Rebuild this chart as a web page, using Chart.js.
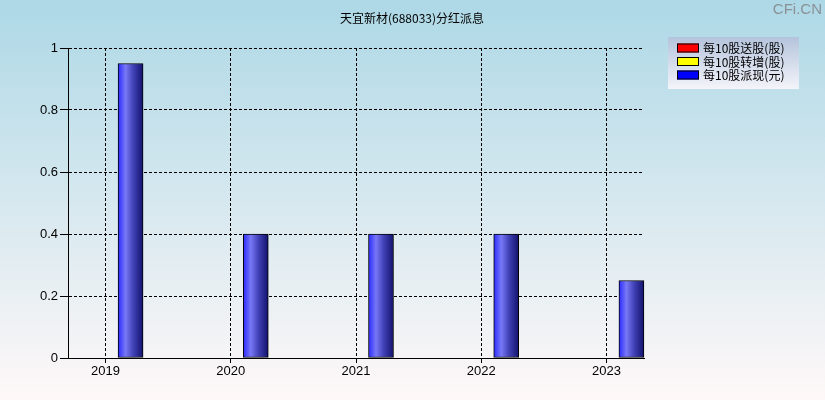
<!DOCTYPE html>
<html>
<head>
<meta charset="utf-8">
<title>天宜新材(688033)分红派息</title>
<script src="https://cdn.jsdelivr.net/npm/chart.js@4/dist/chart.umd.min.js"></script>
<style>
  html, body { margin: 0; padding: 0; background: #fff; }
  canvas { display: block; }
</style>
</head>
<body>
<canvas id="divChart" width="825" height="400"></canvas>
<script>
const titleText = '天宜新材(688033)分红派息';
const years = [2019, 2020, 2021, 2022, 2023];
const songGu = [0, 0, 0, 0, 0];        // 每10股送股(股)
const zhuanZeng = [0, 0, 0, 0, 0];     // 每10股转增(股)
const paiXian = [0.95, 0.4, 0.4, 0.4, 0.25]; // 每10股派现(元)
const yTicks = [0, 0.2, 0.4, 0.6, 0.8, 1];
const seriesNames = ['每10股送股(股)', '每10股转增(股)', '每10股派现(元)'];
const seriesColors = ['#ff0000', '#ffff00', '#0000ff'];

const FONT = '"Liberation Sans", Arial, sans-serif';
const CJK = '"Noto Sans CJK SC", "Liberation Sans", sans-serif';

// background, title, watermark, legend
const decor = {
  id: 'decor',
  beforeDraw(chart) {
    const c = chart.ctx;
    const bg = c.createLinearGradient(0, 0, 0, chart.height);
    bg.addColorStop(0, '#add8e6');
    bg.addColorStop(1, '#fff8f8');
    c.save();
    c.fillStyle = bg;
    c.fillRect(0, 0, chart.width, chart.height);
    c.restore();
  },
  afterDraw(chart) {
    const c = chart.ctx;
    c.save();
    c.fillStyle = '#000';
    c.font = '12px ' + CJK;
    c.textAlign = 'center';
    c.textBaseline = 'middle';
    c.fillText(titleText, 412, 18);

    c.fillStyle = '#8a9298';
    c.font = '15px ' + FONT;
    c.textAlign = 'right';
    c.fillText('CFi.CN', 822, 10);

    // legend
    const lx = 668, ly = 37, lw = 131, lh = 52;
    const lg = c.createLinearGradient(0, ly, 0, ly + lh);
    lg.addColorStop(0, '#b4c4dc');
    lg.addColorStop(1, '#f4f4fa');
    c.fillStyle = lg;
    c.fillRect(lx, ly, lw, lh);
    c.font = '12px ' + CJK;
    c.textAlign = 'left';
    seriesNames.forEach((name, i) => {
      const y = ly + 6.5 + i * 13.5;
      c.fillStyle = seriesColors[i];
      c.fillRect(677, y, 22, 9);
      c.strokeStyle = '#000';
      c.lineWidth = 1;
      c.strokeRect(677.5, y + 0.5, 21, 8);
      c.fillStyle = '#000';
      c.fillText(name, 703, y + 5);
    });
    c.restore();
  }
};

// cylinder-like horizontal gradient on every bar
const barShade = {
  id: 'barShade',
  beforeDatasetsDraw(chart) {
    const c = chart.ctx;
    chart.data.datasets.forEach((ds, di) => {
      chart.getDatasetMeta(di).data.forEach(el => {
        const x0 = el.x - el.width / 2, x1 = el.x + el.width / 2;
        const g = c.createLinearGradient(x0, 0, x1, 0);
        if (di === 2) {
          g.addColorStop(0, '#2a2aff');
          g.addColorStop(0.3, '#7878f6');
          g.addColorStop(0.6, '#4242b8');
          g.addColorStop(1, '#12126c');
        } else {
          g.addColorStop(0, seriesColors[di]);
          g.addColorStop(1, seriesColors[di]);
        }
        el.options.backgroundColor = g;
      });
    });
  }
};

function makeSet(label, data, color) {
  return {
    label: label,
    data: data,
    backgroundColor: () => color,
    borderColor: '#000',
    borderWidth: 1,
    borderSkipped: false,
    barThickness: 25,
    clip: false
  };
}

new Chart(document.getElementById('divChart'), {
  type: 'bar',
  data: {
    labels: years,
    datasets: [
      makeSet(seriesNames[0], songGu, seriesColors[0]),
      makeSet(seriesNames[1], zhuanZeng, seriesColors[1]),
      makeSet(seriesNames[2], paiXian, seriesColors[2])
    ]
  },
  options: {
    responsive: false,
    animation: false,
    layout: { padding: { top: 48, right: 181, bottom: 0, left: 0 } },
    plugins: {
      legend: { display: false },
      title: { display: false },
      tooltip: { enabled: false }
    },
    scales: {
      x: {
        type: 'linear',
        offset: false,
        min: 2018.7,
        max: 2023.3,
        afterBuildTicks: s => { s.ticks = years.map(v => ({ value: v })); },
        afterFit: s => { s.height = 42; },
        ticks: {
          color: '#000',
          font: { family: FONT, size: 13 },
          padding: 1,
          maxRotation: 0,
          callback: v => String(v)
        },
        grid: { offset: false, color: '#000', tickColor: '#000', tickLength: 5, lineWidth: 1 },
        border: { display: true, color: '#000', width: 1, dash: [3, 2] }
      },
      y: {
        min: 0,
        max: 1,
        afterBuildTicks: s => { s.ticks = yTicks.map(v => ({ value: v })); },
        afterFit: s => { s.width = 68; },
        ticks: {
          color: '#000',
          font: { family: FONT, size: 13 },
          padding: 2,
          callback: v => String(v)
        },
        grid: { color: '#000', tickColor: '#000', tickLength: 8, lineWidth: 1 },
        border: { display: true, color: '#000', width: 1, dash: [3, 2] }
      }
    }
  },
  plugins: [decor, barShade]
});
</script>
</body>
</html>
